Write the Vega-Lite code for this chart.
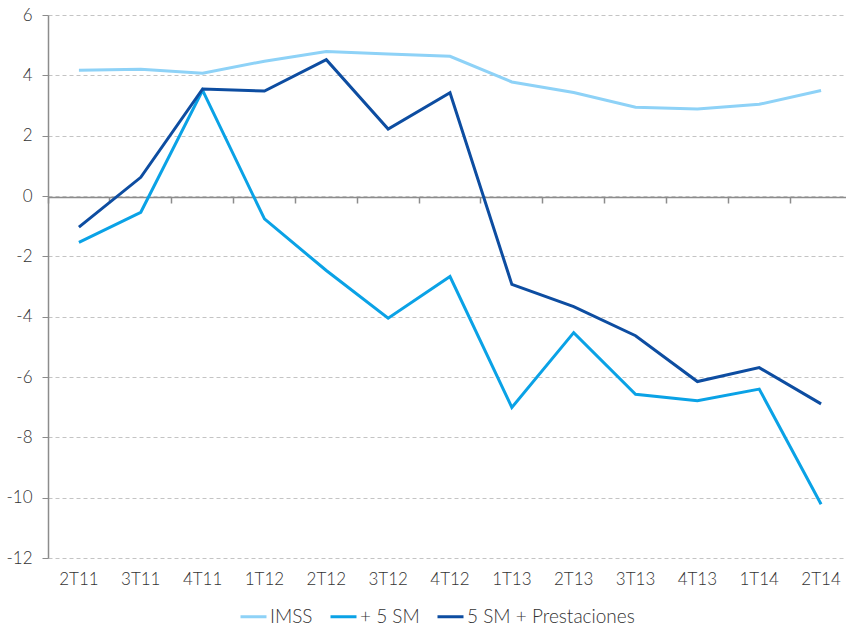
{
  "$schema": "https://vega.github.io/schema/vega-lite/v6.json",
  "width": 798,
  "height": 543,
  "autosize": {"type": "none"},
  "padding": {"left": 48, "top": 15, "right": 0, "bottom": 68},
  "background": "white",
  "config": {
    "view": {"stroke": null},
    "font": "Lato",
    "axis": {"labelFont": "Lato", "labelFontWeight": 300, "labelColor": "#333333", "labelFontSize": 17},
    "legend": {"labelFont": "Lato", "labelFontWeight": 300, "labelColor": "#333333", "labelFontSize": 19, "labelLimit": 400}
  },
  "data": {
    "values": [
      {"q": "2T11", "s": "IMSS", "v": 4.17},
      {"q": "3T11", "s": "IMSS", "v": 4.2},
      {"q": "4T11", "s": "IMSS", "v": 4.07},
      {"q": "1T12", "s": "IMSS", "v": 4.47},
      {"q": "2T12", "s": "IMSS", "v": 4.79},
      {"q": "3T12", "s": "IMSS", "v": 4.71},
      {"q": "4T12", "s": "IMSS", "v": 4.63},
      {"q": "1T13", "s": "IMSS", "v": 3.78},
      {"q": "2T13", "s": "IMSS", "v": 3.43},
      {"q": "3T13", "s": "IMSS", "v": 2.94},
      {"q": "4T13", "s": "IMSS", "v": 2.88},
      {"q": "1T14", "s": "IMSS", "v": 3.04},
      {"q": "2T14", "s": "IMSS", "v": 3.5},
      {"q": "2T11", "s": "+ 5 SM", "v": -1.54},
      {"q": "3T11", "s": "+ 5 SM", "v": -0.54},
      {"q": "4T11", "s": "+ 5 SM", "v": 3.5},
      {"q": "1T12", "s": "+ 5 SM", "v": -0.76},
      {"q": "2T12", "s": "+ 5 SM", "v": -2.47},
      {"q": "3T12", "s": "+ 5 SM", "v": -4.05},
      {"q": "4T12", "s": "+ 5 SM", "v": -2.67},
      {"q": "1T13", "s": "+ 5 SM", "v": -7.01},
      {"q": "2T13", "s": "+ 5 SM", "v": -4.53},
      {"q": "3T13", "s": "+ 5 SM", "v": -6.57},
      {"q": "4T13", "s": "+ 5 SM", "v": -6.79},
      {"q": "1T14", "s": "+ 5 SM", "v": -6.4},
      {"q": "2T14", "s": "+ 5 SM", "v": -10.22},
      {"q": "2T11", "s": "5 SM + Prestaciones", "v": -1.03},
      {"q": "3T11", "s": "5 SM + Prestaciones", "v": 0.62},
      {"q": "4T11", "s": "5 SM + Prestaciones", "v": 3.55},
      {"q": "1T12", "s": "5 SM + Prestaciones", "v": 3.48},
      {"q": "2T12", "s": "5 SM + Prestaciones", "v": 4.52},
      {"q": "3T12", "s": "5 SM + Prestaciones", "v": 2.22},
      {"q": "4T12", "s": "5 SM + Prestaciones", "v": 3.42},
      {"q": "1T13", "s": "5 SM + Prestaciones", "v": -2.93},
      {"q": "2T13", "s": "5 SM + Prestaciones", "v": -3.67},
      {"q": "3T13", "s": "5 SM + Prestaciones", "v": -4.63},
      {"q": "4T13", "s": "5 SM + Prestaciones", "v": -6.15},
      {"q": "1T14", "s": "5 SM + Prestaciones", "v": -5.69},
      {"q": "2T14", "s": "5 SM + Prestaciones", "v": -6.89}
    ]
  },
  "mark": {"type": "line", "strokeWidth": 3},
  "encoding": {
    "x": {
      "field": "q",
      "type": "ordinal",
      "sort": null,
      "scale": {"type": "band", "paddingInner": 0, "paddingOuter": 0, "range": [0, 804]},
      "axis": {
        "title": null,
        "offset": -361,
        "labelPadding": 368,
        "labelAngle": 0,
        "bandPosition": 0,
        "domainColor": "#8c8c8c",
        "domainWidth": 1.5,
        "tickColor": "#8c8c8c",
        "tickWidth": 1.5,
        "tickSize": 6,
        "grid": false
      }
    },
    "y": {
      "field": "v",
      "type": "quantitative",
      "scale": {"domain": [-12, 6], "nice": false, "zero": false},
      "axis": {
        "title": null,
        "values": [-12, -10, -8, -6, -4, -2, 0, 2, 4, 6],
        "labelExpr": "replace(datum.label, '\u2212', '-')",
        "labelPadding": 10,
        "domainColor": "#8c8c8c",
        "domainWidth": 1.5,
        "tickColor": "#8c8c8c",
        "tickSize": 6,
        "grid": true,
        "gridColor": "#c4c4c4",
        "gridDash": [4, 3],
        "gridWidth": 1
      }
    },
    "color": {
      "field": "s",
      "type": "nominal",
      "sort": ["IMSS", "+ 5 SM", "5 SM + Prestaciones"],
      "scale": {"domain": ["IMSS", "+ 5 SM", "5 SM + Prestaciones"], "range": ["#8ed2f7", "#0aa2e6", "#0d4da1"]},
      "legend": {
        "title": null,
        "orient": "none",
        "legendX": 191,
        "legendY": 587,
        "direction": "horizontal",
        "symbolType": "stroke",
        "symbolSize": 676,
        "symbolStrokeWidth": 3,
        "labelOffset": 2,
        "labelLimit": 400,
        "columnPadding": 11
      }
    }
  }
}
